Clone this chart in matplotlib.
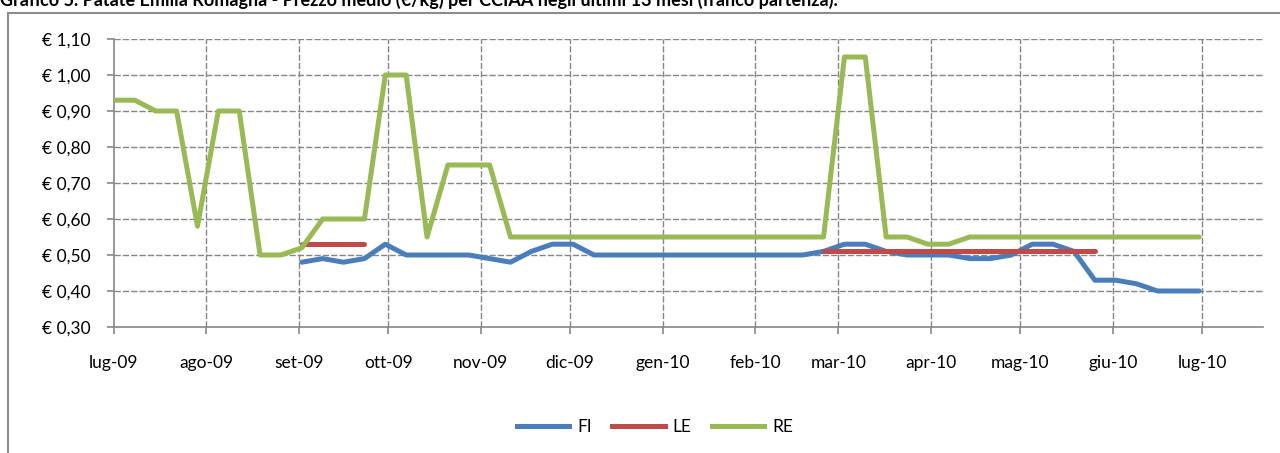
import numpy as np
import pandas as pd
import matplotlib
matplotlib.use('Agg')
import matplotlib.pyplot as plt
import matplotlib.dates as mdates
from matplotlib.lines import Line2D

plt.rcParams['font.family'] = ['Lato', 'DejaVu Sans']

# weekly prices, first week 1 Jul 2009
weeks = pd.date_range('2009-07-01', periods=53, freq='7D')
nan = np.nan

fi = [nan] * 9 + [0.48, 0.49, 0.48, 0.49, 0.53, 0.50, 0.50, 0.50, 0.50, 0.49,
                  0.48, 0.51, 0.53, 0.53] + [0.50] * 11 + \
     [0.51, 0.53, 0.53, 0.51, 0.50, 0.50, 0.50, 0.49, 0.49, 0.50, 0.53, 0.53,
      0.51, 0.43, 0.43, 0.42, 0.40, 0.40, 0.40]
le = [nan] * 9 + [0.53] * 4 + [nan] * 21 + [0.51] * 14 + [nan] * 5
re = [0.93, 0.93, 0.90, 0.90, 0.58, 0.90, 0.90, 0.50, 0.50, 0.52, 0.60, 0.60,
      0.60, 1.00, 1.00, 0.55, 0.75, 0.75, 0.75] + [0.55] * 16 + \
     [1.05, 1.05, 0.55, 0.55, 0.53, 0.53] + [0.55] * 12

series = ['FI', 'LE', 'RE']
colors = ['#4A7EBB', '#BE4B48', '#98B954']

month_ticks = pd.date_range('2009-07-01', '2010-07-01', freq='MS')
month_labels = ['lug-09', 'ago-09', 'set-09', 'ott-09', 'nov-09', 'dic-09',
                'gen-10', 'feb-10', 'mar-10', 'apr-10', 'mag-10', 'giu-10', 'lug-10']
y_ticks = [0.30, 0.40, 0.50, 0.60, 0.70, 0.80, 0.90, 1.00, 1.10]
y_labels = ['€ ' + f'{v:.2f}'.replace('.', ',') for v in y_ticks]

W, H = 1280, 453
fig = plt.figure(figsize=(W / 100, H / 100), dpi=100)
ax = fig.add_axes([114 / W, 1 - 327 / H, (1263 - 114) / W, (327 - 39) / H])

grid_c = '#868686'
for s, vals, c in zip(series, [fi, le, re], colors):
    ax.plot(weeks, vals, color=c, lw=3.6, solid_capstyle='round',
            solid_joinstyle='round', label=s, zorder=3)

x0 = mdates.date2num(pd.Timestamp('2009-07-01'))
ax.set_xlim(x0, x0 + 385.4)
ax.set_ylim(0.30, 1.10)
ax.set_xticks(month_ticks)
ax.set_xticklabels(month_labels)
ax.set_yticks(y_ticks)
ax.set_yticklabels(y_labels)

for v in y_ticks[1:]:
    ax.axhline(v, color=grid_c, lw=1.0, ls=(0, (4.5, 1.5)), zorder=1)
for d in month_ticks[1:]:
    ax.axvline(d, color=grid_c, lw=1.0, ls=(0, (4.5, 1.5)), zorder=1)

for side in ['top', 'right']:
    ax.spines[side].set_visible(False)
for side in ['left', 'bottom']:
    ax.spines[side].set_color(grid_c)
    ax.spines[side].set_linewidth(1.2)
ax.tick_params(axis='both', colors=grid_c, length=5, width=1.2, labelsize=12.5,
               labelcolor='black')
ax.tick_params(axis='x', pad=15)
ax.tick_params(axis='y', pad=12)

# chart area border (only left and top edges visible in the crop)
fig.add_artist(Line2D([7.5 / W, 7.5 / W], [0, 1 - 13 / H], color='#8c8c8c', lw=1.5))
fig.add_artist(Line2D([7.5 / W, 1], [1 - 13 / H, 1 - 13 / H], color='#8c8c8c', lw=1.5))

fig.text(0, 1 - 6 / H, 'Grafico 5. Patate Emilia Romagna - Prezzo medio (€/kg) per CCIAA '
         'negli ultimi 13 mesi (franco partenza).', fontsize=13, fontweight='bold',
         ha='left', va='baseline')

handles = [Line2D([], [], color=c, lw=3.6) for c in colors]
fig.legend(handles, series, loc='center', bbox_to_anchor=(655 / W, 1 - 427 / H),
           ncol=3, frameon=False, fontsize=12.5, handlelength=3.0,
           handletextpad=0.45, columnspacing=1.2)

fig.savefig('out.png', dpi=100)
